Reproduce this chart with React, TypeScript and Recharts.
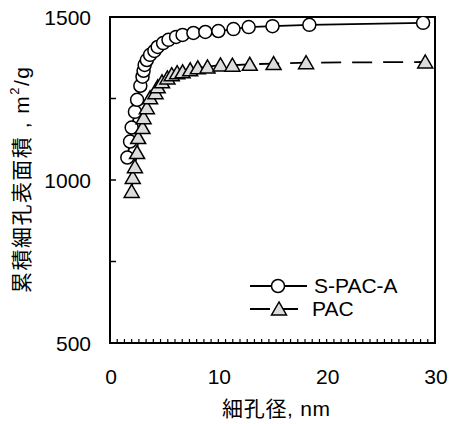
import {
  ComposedChart,
  Line,
  XAxis,
  YAxis,
  ReferenceArea,
  Legend,
  Label,
} from "recharts";

// 細孔径 (nm) と累積細孔表面積 (m2/g)
const sPacX = [
  1.6, 1.85, 2.0, 2.3, 2.5, 2.8, 3.0, 3.1, 3.2, 3.4, 3.7, 4.1, 4.4, 4.9, 5.4,
  6.1, 6.7, 7.7, 8.8, 10.0, 11.4, 12.8, 15.0, 18.4, 28.9,
];
const sPacY = [
  1069, 1118, 1161, 1209, 1246, 1289, 1317, 1335, 1353, 1368, 1384, 1396, 1408,
  1420, 1430, 1439, 1445, 1451, 1454, 1457, 1463, 1469, 1472, 1476, 1482,
];
const pacX = [
  2.0, 2.1, 2.3, 2.5, 2.6, 3.0, 3.1, 3.4, 3.7, 4.2, 4.4, 4.8, 5.3, 5.7, 6.2,
  6.7, 7.4, 8.1, 9.0, 10.2, 11.3, 12.9, 15.1, 18.1, 29.1,
];
const pacY = [
  965, 1008, 1041, 1084, 1130, 1161, 1191, 1222, 1252, 1268, 1286, 1301, 1313,
  1323, 1329, 1332, 1338, 1344, 1347, 1353, 1352, 1355, 1357, 1360, 1362,
];

const xLabelTicks = [0, 10, 20, 30];
const xMinorTicks = Array.from({ length: 46 }, (_, i) => (i * 30) / 45);
const yTicks = [500, 750, 1000, 1250, 1500];
const yLabelTicks = [500, 1000, 1500];

const FONT = "'Liberation Sans', Arial, 'Noto Sans CJK JP', sans-serif";

const sPacData = sPacX.map((x, i) => ({ x, y: sPacY[i] }));
const pacData = pacX.map((x, i) => ({ x, y: pacY[i] }));

const XTick = (props: any) => {
  const { x, y, payload } = props;
  const v = payload.value;
  const major = xLabelTicks.find((t) => Math.abs(t - v) < 1e-6);
  return (
    <g>
      <line x1={x} x2={x} y1={y} y2={y - 4} stroke="#000" strokeWidth={1.2} />
      {major !== undefined && (
        <text
          x={x + 1}
          y={y + 41}
          textAnchor="middle"
          fontSize={21}
          fontFamily={FONT}
          fill="#000"
        >
          {major}
        </text>
      )}
    </g>
  );
};

const YTick = (props: any) => {
  const { x, y, payload } = props;
  const v = payload.value;
  return (
    <g>
      <line x1={x} x2={x + 6} y1={y} y2={y} stroke="#000" strokeWidth={1.5} />
      {yLabelTicks.includes(v) && (
        <text
          x={x - 19}
          y={y + 7.5}
          textAnchor="end"
          fontSize={21}
          fontFamily={FONT}
          fill="#000"
        >
          {v}
        </text>
      )}
    </g>
  );
};

const Triangle = (props: any) => {
  const { cx, cy } = props;
  if (cx == null || cy == null) return null;
  return (
    <path
      d={`M${cx},${cy - 7} L${cx - 7.5},${cy + 6} L${cx + 7.5},${cy + 6} Z`}
      fill="#dcdcdc"
      stroke="#000"
      strokeWidth={1.5}
    />
  );
};

const YTitle = () => (
  <text
    x={21}
    y={180}
    transform="rotate(-90 21 180)"
    textAnchor="middle"
    dominantBaseline="central"
    fontSize={21}
    fontFamily={FONT}
    textLength={226}
    lengthAdjust="spacing"
    style={{ fill: "#000" }}
  >
    累積細孔表面積 , m
    <tspan fontSize={13} dy={-7}>
      2
    </tspan>
    <tspan dy={7}>/g</tspan>
  </text>
);

const XTitle = () => (
  <text
    x={276}
    y={416}
    textAnchor="middle"
    fontSize={21}
    fontFamily={FONT}
    textLength={108}
    lengthAdjust="spacing"
    fill="#000"
  >
    細孔径, nm
  </text>
);

const LegendBox = () => (
  <svg width={190} height={56}>
    <line x1={10} x2={67} y1={16} y2={16} stroke="#000" strokeWidth={1.8} />
    <circle cx={38} cy={16} r={6.5} fill="#fff" stroke="#000" strokeWidth={1.5} />
    <text x={74} y={23} fontSize={21} fontFamily={FONT} fill="#000">
      S-PAC-A
    </text>
    <line
      x1={10}
      x2={58}
      y1={39}
      y2={39}
      stroke="#000"
      strokeWidth={1.8}
      strokeDasharray="20 11"
    />
    <Triangle cx={39} cy={39} />
    <text x={72} y={46} fontSize={21} fontFamily={FONT} fill="#000">
      PAC
    </text>
  </svg>
);

export default function App() {
  return (
    <div style={{ position: "absolute", left: 0, top: 0, width: 451, height: 424, background: "#fff" }}>
      <ComposedChart
        width={451}
        height={424}
        margin={{ top: 17, right: 16, bottom: 31, left: 50 }}
      >
        <XAxis
          type="number"
          dataKey="x"
          domain={[0, 30]}
          ticks={xMinorTicks}
          interval={0}
          tick={<XTick />}
          tickLine={false}
          axisLine={false}
          tickSize={0}
          tickMargin={0}
          height={50}
          allowDataOverflow
        >
          <Label content={<XTitle />} />
        </XAxis>
        <YAxis
          type="number"
          dataKey="y"
          domain={[500, 1500]}
          ticks={yTicks}
          interval={0}
          tick={<YTick />}
          tickLine={false}
          axisLine={false}
          tickSize={0}
          tickMargin={0}
          width={60}
          allowDataOverflow
        >
          <Label content={<YTitle />} />
        </YAxis>
        <ReferenceArea
          x1={0}
          x2={30}
          y1={500}
          y2={1500}
          fill="none"
          stroke="#000"
          strokeWidth={2}
          fillOpacity={0}
        />
        <Line
          data={sPacData}
          dataKey="y"
          name="S-PAC-A"
          type="linear"
          stroke="#000"
          strokeWidth={1.8}
          dot={{ r: 6.5, fill: "#fff", stroke: "#000", strokeWidth: 1.5 }}
          activeDot={false}
          isAnimationActive={false}
        />
        <Line
          data={pacData}
          dataKey="y"
          name="PAC"
          type="linear"
          stroke="#000"
          strokeWidth={1.8}
          strokeDasharray="20 11"
          dot={<Triangle />}
          activeDot={false}
          isAnimationActive={false}
        />
        <Legend
          content={<LegendBox />}
          layout="horizontal"
          verticalAlign="middle"
          align="center"
          wrapperStyle={{ position: "absolute", left: 240, top: 270, width: 190, height: 56 }}
        />
      </ComposedChart>
    </div>
  );
}
